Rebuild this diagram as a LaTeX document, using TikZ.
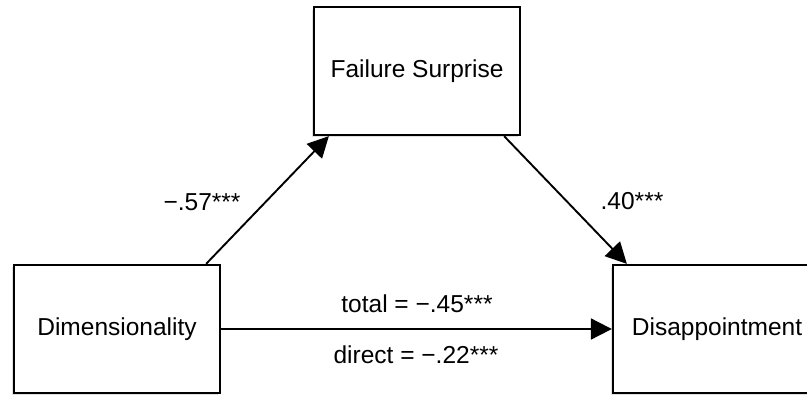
\documentclass[tikz,border=0pt]{standalone}
\usepackage{fontspec}
\setmainfont{Liberation Sans}
\usetikzlibrary{arrows.meta,calc}
\tikzset{
  varbox/.style={draw=black, line width=2.3pt, fill=white, minimum width=206pt, minimum height=128pt, inner sep=0pt, font=\fontsize{24.5}{29}\selectfont},
  shadowbox/.style={fill=black!12, draw=none},
  path/.style={draw=black, line width=1.9pt, -{Triangle[length=21pt,width=21pt]}},
  coef/.style={anchor=base, inner sep=0pt, font=\fontsize{24.5}{29}\selectfont}
}
\begin{document}
\begin{tikzpicture}[x=1pt,y=-1pt]
\useasboundingbox (0,0) rectangle (807,396);
\clip (0,0) rectangle (807,396);
\fill[white] (0,0) rectangle (807,396);
% shadows
\fill[shadowbox] (12,267) rectangle (218,395);
\fill[shadowbox] (312,10) rectangle (518,137);
\fill[shadowbox] (611,268) rectangle (819,395);
% boxes
\node[varbox] (dim) at (117,329) {Dimensionality};
\node[varbox] (fs) at (417,71) {Failure Surprise};
\node[varbox, minimum width=208pt] (dis) at (717,329) {Disappointment};
% connectors
\draw[path] ($(dim.north east)+(-15,0)$) -- ($(fs.south west)+(16,0)$);
\draw[path] ($(fs.south east)+(-17,0)$) -- ($(dis.north west)+(15,0)$);
\draw[path] (dim.east) -- (dis.west);
% labels
\node[coef] (la) at (202,210) {−.57***};
\node[coef] (lb) at (632,209) {.40***};
\node[coef] (lc) at (417,312) {total = −.45***};
\node[coef] (ld) at (416,363) {direct = −.22***};
\end{tikzpicture}
\end{document}
